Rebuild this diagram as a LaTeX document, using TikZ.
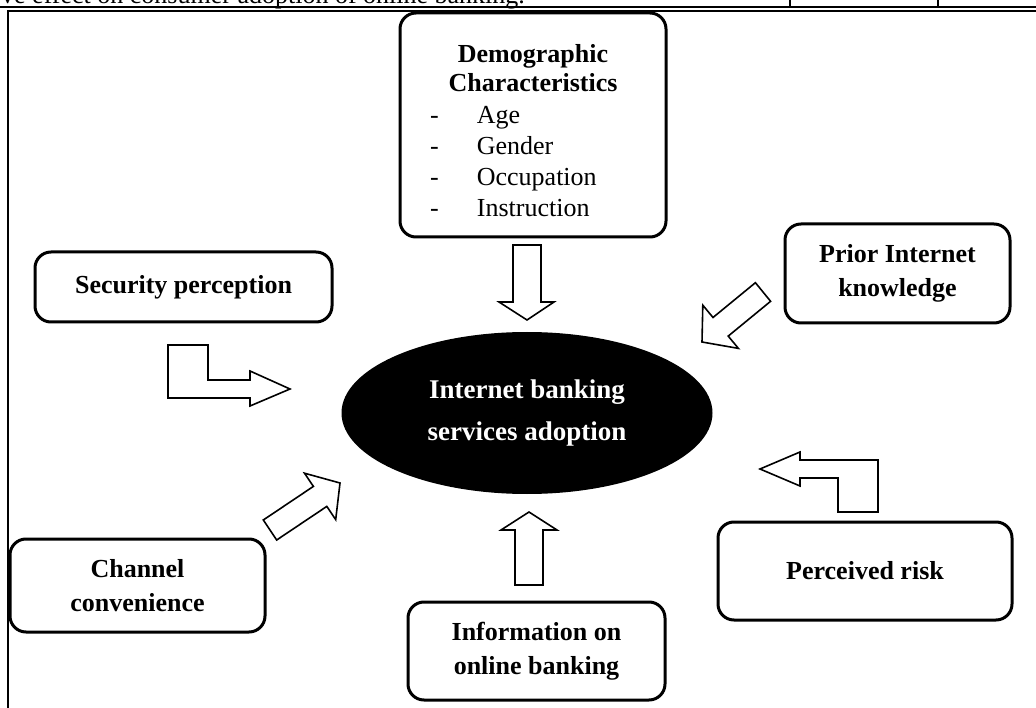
\documentclass[tikz,border=0pt]{standalone}
\usepackage{fontspec}
\setmainfont{Liberation Serif}
\usetikzlibrary{shapes.geometric}

\tikzset{
  factor/.style={draw, line width=3pt, rounded corners=16pt, align=center, inner sep=0pt,
    font=\fontsize{26}{34}\selectfont\bfseries},
  blockarrow/.style={draw, line width=1.6pt, fill=white, line join=miter},
  rule/.style={line width=2pt},
}

\begin{document}
\begin{tikzpicture}[x=1pt,y=1pt,yscale=-1,xscale=1]
\useasboundingbox (0,0) rectangle (1036,708);
\clip (0,0) rectangle (1036,708);

% Text Node
\node (caption) [anchor=base west, inner sep=0pt, font=\fontsize{26}{30}\selectfont] at (1,4) {ve effect on consumer adoption of online banking.};
%Table rules above the figure
\draw [rule] (0,7.5) -- (1036,7.5);
\draw [rule] (790,0) -- (790,7.5);
\draw [rule] (938,0) -- (938,7.5);
%Frame
\draw [line width=1.5pt] (8,708) -- (8,11) -- (1036,11);

%Shape: Ellipse
\node (core) [ellipse, fill=black, minimum width=371, minimum height=162, inner sep=0pt] at (527,413) {};
% Text Node
\node (coretext) [align=center, text=white, inner sep=0pt, font=\fontsize{27}{42}\selectfont\bfseries] at (527,413) {Internet banking\\services adoption};

%Rounded boxes
\node (demo) [factor, fill=white, minimum width=266, minimum height=224] at (533,125) {};
\node (demotitle) [anchor=base, inner sep=0pt, align=center, font=\fontsize{26}{29}\selectfont\bfseries] at (533,92) {Demographic\\Characteristics};
\node (demolist) [anchor=base west, inner sep=0pt, font=\fontsize{26}{31}\selectfont] at (430,124) {%
  \begin{tabular}[t]{@{}l@{\hspace{38pt}}l@{}}
  - & Age\\
  - & Gender\\
  - & Occupation\\
  - & Instruction
  \end{tabular}};
\node (secu) [factor, minimum width=297, minimum height=70] at (183.5,287) {Security perception};
\node (prior) [factor, minimum width=225, minimum height=99] at (897.5,273.5) {Prior Internet\\knowledge};
\node (chan) [factor, minimum width=255, minimum height=93] at (137.5,585.5) {Channel\\convenience};
\node (info) [factor, minimum width=257, minimum height=98] at (536.5,651) {Information on\\online banking};
\node (risk) [factor, minimum width=294, minimum height=98] at (865,571) {Perceived risk};

%Block arrows
% down, from demographics
\draw [blockarrow] (513,245) -- (541,245) -- (541,302) -- (554,302) -- (527,320) -- (499,302) -- (513,302) -- cycle;
% up, from information
\draw [blockarrow] (515,585) -- (543,585) -- (543,530) -- (557,530) -- (529,512) -- (501,530) -- (515,530) -- cycle;
% bent, from security perception
\draw [blockarrow] (168,345) -- (208,345) -- (208,380) -- (250,380) -- (250,371) -- (290,389) -- (250,406) -- (250,398) -- (168,398) -- cycle;
% bent, from perceived risk
\draw [blockarrow] (760,469) -- (800,452) -- (800,460) -- (878,460) -- (878,512) -- (838,512) -- (838,478) -- (800,478) -- (800,486) -- cycle;
% diagonal, from channel convenience
\draw [blockarrow] (263.3,520.0) -- (313.4,486.4) -- (304.5,473.2) -- (340,483) -- (335.7,519.6) -- (326.8,506.4) -- (276.7,540.0) -- cycle;
% diagonal, from prior internet knowledge
\draw [blockarrow] (755.4,282.7) -- (713.0,317.5) -- (702.8,305.2) -- (702,342) -- (738.4,348.4) -- (728.2,336.1) -- (770.6,301.3) -- cycle;

\end{tikzpicture}
\end{document}
